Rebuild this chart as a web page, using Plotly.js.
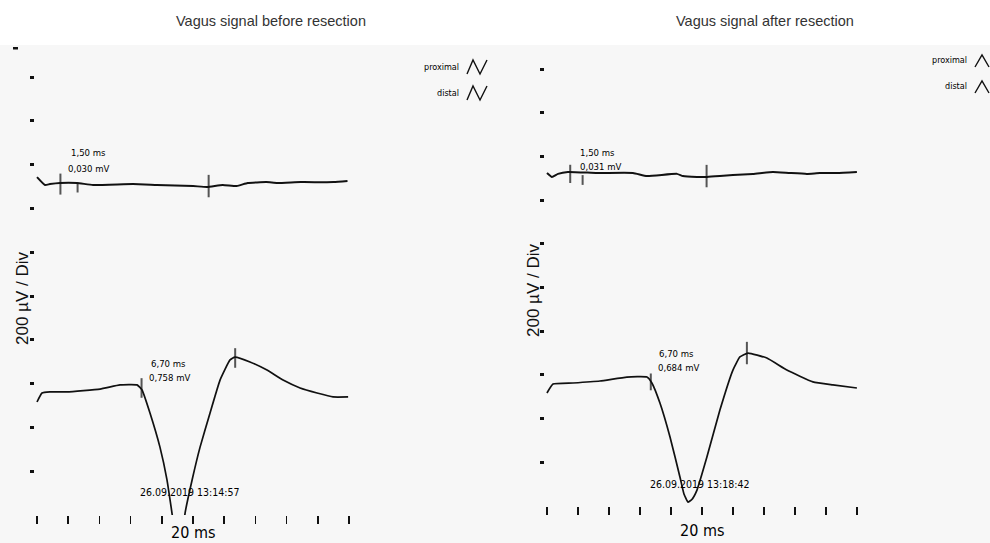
<!DOCTYPE html>
<html><head><meta charset="utf-8">
<script src="https://cdn.plot.ly/plotly-3.0.1.min.js"></script>
<style>html,body{margin:0;padding:0;background:#fff}#chart{width:990px;height:543px}</style>
</head><body><div id="chart"></div>
<script>
// Time in ms (sweep 20 ms, 2 ms/div), amplitude in µV on display scale (200 µV/div)
const beforeProxT = [0, 0.51, 0.83, 1.47, 2.56, 3.59, 6.15, 7.69, 10.0, 10.9, 11.9, 12.8, 13.5, 14.7, 15.4, 16.9, 19.0, 19.9];
const beforeProxV = [1543, 1507, 1511, 1516, 1516, 1507, 1511, 1507, 1502, 1498, 1507, 1502, 1516, 1520, 1516, 1520, 1520, 1525];
const beforeDistT = [0, 0.32, 0.83, 1.92, 4.04, 5.32, 6.41, 6.73, 7.24, 7.88, 8.33, 8.65, 8.91, 9.1, 9.29, 9.49, 9.94, 10.45, 11.09, 11.73, 12.37, 12.69, 13.65, 14.74, 15.77, 16.86, 17.95, 18.97, 19.94];
const beforeDistV = [516, 557, 562, 562, 575, 594, 594, 571, 466, 310, 160, 9, -114, -160, -114, 9, 160, 310, 466, 616, 708, 721, 699, 662, 616, 580, 557, 539, 539];

const afterProxT = [0, 0.32, 0.71, 1.35, 3.23, 5.55, 6.45, 8.39, 8.77, 9.68, 10.32, 11.16, 12.0, 13.29, 14.58, 15.68, 16.77, 17.61, 18.71, 20.0];
const afterProxV = [1524, 1506, 1520, 1529, 1524, 1524, 1510, 1520, 1510, 1506, 1506, 1510, 1515, 1520, 1529, 1524, 1520, 1524, 1524, 1529];
const afterDistT = [0, 0.39, 1.68, 3.42, 5.16, 6.45, 6.77, 7.29, 7.94, 8.58, 8.84, 9.1, 9.35, 9.68, 10.32, 11.16, 12.0, 12.45, 12.97, 14.19, 15.48, 17.16, 18.45, 20.0];
const afterDistV = [517, 558, 563, 572, 590, 590, 563, 471, 316, 133, 55, 18, 30, 73, 224, 439, 622, 682, 700, 677, 622, 568, 554, 540];

// cursor / marker positions
const beforeProxMarkT = [1.5, 2.6, 11.0];
const beforeProxMarkV = [1511, 1495, 1502];
const beforeDistMarkT = [6.7, 12.7];
const beforeDistMarkV = [580, 717];
const afterProxMarkT = [1.5, 2.3, 10.3];
const afterProxMarkV = [1520, 1492, 1510];
const afterDistMarkT = [6.7, 12.9];
const afterDistMarkV = [568, 700];

const divTicksT = [0, 2, 4, 6, 8, 10, 12, 14, 16, 18, 20];
const divTicksV = [0, 200, 400, 600, 800, 1000, 1200, 1400, 1600, 1800, 2000];

const titles = ['Vagus signal before resection', 'Vagus signal after resection'];
const yLabel = '200 µV / Div';
const xLabel = '20 ms';
const legendNames = ['proximal', 'distal'];
const beforeLabels = {prox: ['1,50 ms', '0,030 mV'], dist: ['6,70 ms', '0,758 mV'], stamp: '26.09.2019 13:14:57'};
const afterLabels = {prox: ['1,50 ms', '0,031 mV'], dist: ['6,70 ms', '0,684 mV'], stamp: '26.09.2019 13:18:42'};

const W = 990, H = 543;
const px = x => x / W;
const py = y => 1 - y / H;
const narrow = 'Liberation Sans Narrow, DejaVu Sans Condensed, Arial Narrow, sans-serif';
const ink = '#111';

function lineTrace(x, y, ax, w) {
  return {x, y, xaxis: ax[0], yaxis: ax[1], mode: 'lines', type: 'scatter',
    line: {color: ink, width: w, shape: 'spline', smoothing: 0.4}, hoverinfo: 'skip', showlegend: false};
}
function markTrace(x, y, ax, size) {
  return {x, y, xaxis: ax[0], yaxis: ax[1], mode: 'markers', type: 'scatter',
    marker: {symbol: 'line-ns', size: size, color: ink, line: {color: ink, width: 2}},
    hoverinfo: 'skip', showlegend: false, cliponaxis: false};
}

const A1 = ['x', 'y'], A2 = ['x2', 'y2'];
const data = [
  lineTrace(beforeProxT, beforeProxV, A1, 2),
  lineTrace(beforeDistT, beforeDistV, A1, 1.7),
  lineTrace(afterProxT, afterProxV, A2, 2),
  lineTrace(afterDistT, afterDistV, A2, 1.7),
  markTrace(beforeProxMarkT, beforeProxMarkV, A1, [15, 7, 16]),
  markTrace(beforeDistMarkT, beforeDistMarkV, A1, [14, 14]),
  markTrace(afterProxMarkT, afterProxMarkV, A2, [13, 7, 16]),
  markTrace(afterDistMarkT, afterDistMarkV, A2, [12, 16])
];

function xAx(domain, range, anchor) {
  return {domain, anchor, range, tickvals: divTicksT, ticks: 'outside', ticklen: 8,
    tickwidth: 1.5, tickcolor: ink, showticklabels: false, showgrid: false, zeroline: false, showline: false, fixedrange: true};
}
function yAx(domain, anchor) {
  return {domain, anchor, range: [0, 2100], tickvals: divTicksV, ticks: 'inside', ticklen: 4,
    tickwidth: 3, tickcolor: ink, showticklabels: false, showgrid: false, zeroline: false, showline: false, fixedrange: true};
}
const xa1 = xAx([px(30), px(351.4)], [-0.45, 20.15], 'y');
const xa2 = xAx([px(540), px(860)], [-0.45, 20.2], 'y2');
const ya1 = yAx([py(515), py(515 - 2100 * 0.219)], 'x');
const ya2 = yAx([py(506), py(506 - 2100 * 0.2185)], 'x2');

function txt(x, y, text, xref, yref, size, extra) {
  return Object.assign({x, y, xref, yref, text, showarrow: false, xanchor: 'center', yanchor: 'middle',
    font: {family: narrow, size: size, color: '#000'}}, extra || {});
}
const titleFont = {family: 'Liberation Sans, Arial, sans-serif', size: 14.5, color: '#333'};
const yFont = {family: 'Liberation Sans, Arial, sans-serif', size: 17, color: ink};

const annotations = [
  // titles
  txt(px(271), py(21), titles[0], 'paper', 'paper', 14.5, {font: titleFont}),
  txt(px(765), py(21), titles[1], 'paper', 'paper', 14.5, {font: titleFont}),
  // y labels
  txt(px(22), py(299), yLabel, 'paper', 'paper', 17, {textangle: -90, font: yFont}),
  txt(px(533), py(291), yLabel, 'paper', 'paper', 17, {textangle: -90, font: yFont}),
  // x labels
  txt(px(193), py(532), xLabel, 'paper', 'paper', 16),
  txt(px(702), py(530), xLabel, 'paper', 'paper', 16),
  // before values
  txt(3.27, 1653, beforeLabels.prox[0], 'x', 'y', 9.5),
  txt(3.33, 1584, beforeLabels.prox[1], 'x', 'y', 9.5),
  txt(8.4, 694, beforeLabels.dist[0], 'x', 'y', 9.5),
  txt(8.53, 630, beforeLabels.dist[1], 'x', 'y', 9.5),
  txt(9.8, 105, beforeLabels.stamp, 'x', 'y', 10.5),
  // after values
  txt(3.29, 1616, afterLabels.prox[0], 'x2', 'y2', 9.5),
  txt(3.48, 1552, afterLabels.prox[1], 'x2', 'y2', 9.5),
  txt(8.39, 696, afterLabels.dist[0], 'x2', 'y2', 9.5),
  txt(8.52, 636, afterLabels.dist[1], 'x2', 'y2', 9.5),
  txt(9.87, 101, afterLabels.stamp, 'x2', 'y2', 10.5),
  // legends
  txt(px(461), py(67), legendNames[0], 'paper', 'paper', 9, {xanchor: 'right'}),
  txt(px(461), py(93), legendNames[1], 'paper', 'paper', 9, {xanchor: 'right'}),
  txt(px(969), py(60), legendNames[0], 'paper', 'paper', 9, {xanchor: 'right'}),
  txt(px(969), py(86), legendNames[1], 'paper', 'paper', 9, {xanchor: 'right'})
];

function zig(pts) {
  return {type: 'path', xref: 'paper', yref: 'paper', line: {color: ink, width: 1.4},
    path: pts.map((p, i) => (i ? 'L ' : 'M ') + px(p[0]) + ' ' + py(p[1])).join(' ')};
}
const shapes = [
  {type: 'rect', xref: 'paper', yref: 'paper', x0: 0, x1: 1, y0: 0, y1: py(45), fillcolor: '#f7f7f7', line: {width: 0}, layer: 'below'},
  {type: 'rect', xref: 'paper', yref: 'paper', x0: px(13), x1: px(18), y0: py(49.5), y1: py(47), fillcolor: ink, line: {width: 0}},
  zig([[467, 74], [473, 60], [480, 74], [487, 60]]),
  zig([[467, 100], [473, 86], [480, 100], [487, 86]]),
  zig([[975, 67], [982, 55], [989, 67]]),
  zig([[975, 93], [982, 81], [989, 93]])
];

const layout = {
  width: W, height: H, margin: {l: 0, r: 0, t: 0, b: 0},
  paper_bgcolor: '#ffffff', plot_bgcolor: 'rgba(0,0,0,0)',
  xaxis: xa1, yaxis: ya1, xaxis2: xa2, yaxis2: ya2,
  annotations, shapes, showlegend: false
};
Plotly.newPlot('chart', data, layout, {displayModeBar: false, staticPlot: true});
</script></body></html>
